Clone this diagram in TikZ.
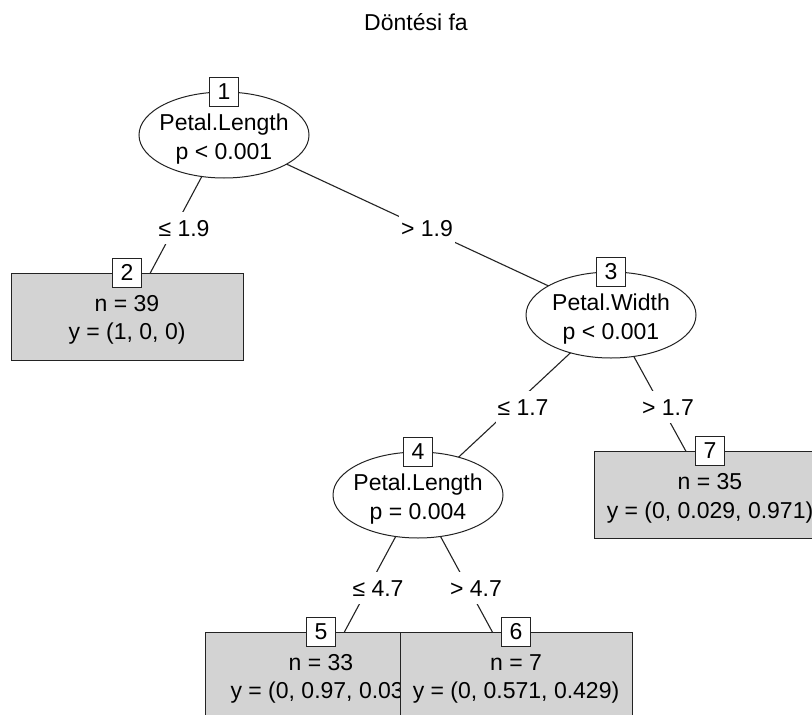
\documentclass[tikz,border=0pt]{standalone}
\usepackage{fontspec}
\setmainfont{Liberation Sans}
\usetikzlibrary{shapes.geometric,backgrounds}
\definecolor{boxgray}{RGB}{211,211,211}
\definecolor{linegray}{RGB}{35,35,35}
\begin{document}
\begin{tikzpicture}[x=1pt,y=-1pt,
  every node/.style={font=\fontsize{23}{28.5}\selectfont, text=black},
  inner/.style={ellipse, draw=linegray, line width=1pt, fill=white, minimum width=170, minimum height=86, inner sep=0pt},
  term/.style={rectangle, draw=linegray, line width=1pt, fill=boxgray, minimum width=232, minimum height=87, inner sep=0pt},
  numbox/.style={rectangle, draw=linegray, line width=1pt, fill=white, minimum width=29, minimum height=29, inner sep=0pt},
  txt/.style={align=center, inner sep=0pt},
  elabel/.style={fill=white, inner xsep=2pt, inner ysep=6pt, text height=18pt, text depth=2pt},
  conn/.style={draw=linegray, line width=1.1pt}
]
\useasboundingbox (0,0) rectangle (812,715);
\clip (0,0) rectangle (812,715);

\node (title) at (416,22) {Döntési fa};

% inner nodes
\node[inner] (n1) at (224,135) {};
\node[txt] (n1t) at (224,139) {Petal.Length\\p < 0.001};
\node[numbox] (n1n) at (n1.north) {1};

\node[inner] (n3) at (611,315) {};
\node[txt] (n3t) at (611,319) {Petal.Width\\p < 0.001};
\node[numbox] (n3n) at (n3.north) {3};

\node[inner] (n4) at (418,495) {};
\node[txt] (n4t) at (418,499) {Petal.Length\\p = 0.004};
\node[numbox] (n4n) at (n4.north) {4};

% terminal nodes
\node[term] (t2) at (127,316.5) {};
\node[txt] (t2t) at (127,320) {n = 39\\y = (1, 0, 0)};
\node[numbox] (t2n) at (t2.north) {2};

\node[term] (t7) at (710,495) {};
\node[txt] (t7t) at (710,498.5) {n = 35\\y = (0, 0.029, 0.971)};
\node[numbox] (t7n) at (t7.north) {7};

\node[term] (t5) at (321,675.5) {};
\node[txt] (t5t) at (321,679) {n = 33\\y = (0, 0.97, 0.03)};
\node[numbox] (t5n) at (t5.north) {5};

\node[term] (t6) at (516,675.5) {};
\node[txt] (t6t) at (516,679) {n = 7\\y = (0, 0.571, 0.429)};
\node[numbox] (t6n) at (t6.north) {6};

% edge labels
\node[elabel] (l12) at (184,228) {≤ 1.9};
\node[elabel] (l13) at (427,228) {> 1.9};
\node[elabel] (l34) at (523,407) {≤ 1.7};
\node[elabel] (l37) at (668,407) {> 1.7};
\node[elabel] (l45) at (378,588) {≤ 4.7};
\node[elabel] (l46) at (476,588) {> 4.7};

\begin{pgfonlayer}{background}
  \fill[white] (0,0) rectangle (812,715);
  \draw[conn] (n1.center) -- (t2.center);
  \draw[conn] (n1.center) -- (n3.center);
  \draw[conn] (n3.center) -- (n4.center);
  \draw[conn] (n3.center) -- (t7.center);
  \draw[conn] (n4.center) -- (t5.center);
  \draw[conn] (n4.center) -- (t6.center);
\end{pgfonlayer}
\end{tikzpicture}
\end{document}
